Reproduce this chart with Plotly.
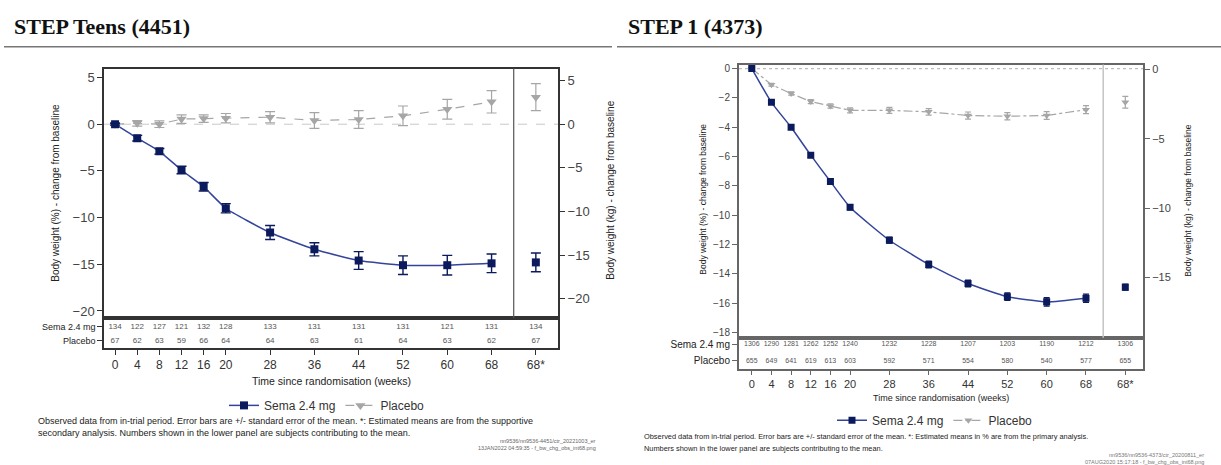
import plotly.graph_objects as go

W, H = 1221, 465

# ---- shared axis categories -------------------------------------------
weeks = [0, 4, 8, 12, 16, 20, 28, 36, 44, 52, 60, 68]
tick_labels = ["0", "4", "8", "12", "16", "20", "28", "36", "44", "52", "60", "68", "68*"]

# ---- STEP Teens: body weight change (%) -------------------------------
teens_sema = [0.0, -1.5, -2.9, -4.9, -6.7, -9.0, -11.6, -13.4, -14.6, -15.1, -15.1, -14.9]
teens_sema_se = [0.1, 0.3, 0.3, 0.4, 0.45, 0.5, 0.75, 0.7, 0.95, 1.0, 1.05, 1.0]
teens_sema_est = [-14.8]
teens_sema_est_se = [1.0]
teens_pbo = [0.0, 0.1, 0.0, 0.55, 0.6, 0.65, 0.75, 0.4, 0.5, 0.9, 1.6, 2.4]
teens_pbo_se = [0.1, 0.3, 0.35, 0.45, 0.4, 0.5, 0.6, 0.85, 0.95, 1.05, 1.05, 1.2]
teens_pbo_est = [2.9]
teens_pbo_est_se = [1.45]
teens_n_sema = [134, 122, 127, 121, 132, 128, 133, 131, 131, 131, 121, 131, 134]
teens_n_pbo = [67, 62, 63, 59, 66, 64, 64, 63, 61, 64, 63, 62, 67]

# ---- STEP 1: body weight change (%) -----------------------------------
s1_sema = [0.0, -2.3, -4.0, -5.9, -7.7, -9.45, -11.7, -13.35, -14.65, -15.55, -15.9, -15.65]
s1_sema_se = [0.05, 0.1, 0.12, 0.14, 0.17, 0.18, 0.2, 0.22, 0.23, 0.25, 0.28, 0.28]
s1_sema_est = [-14.9]
s1_sema_est_se = [0.2]
s1_pbo = [0.0, -1.1, -1.7, -2.25, -2.55, -2.85, -2.85, -2.95, -3.2, -3.25, -3.2, -2.8]
s1_pbo_se = [0.05, 0.1, 0.12, 0.14, 0.15, 0.17, 0.2, 0.22, 0.24, 0.25, 0.26, 0.27]
s1_pbo_est = [-2.3]
s1_pbo_est_se = [0.4]
s1_n_sema = [1306, 1290, 1281, 1262, 1252, 1240, 1232, 1228, 1207, 1203, 1190, 1212, 1306]
s1_n_pbo = [655, 649, 641, 619, 613, 603, 592, 571, 554, 580, 540, 577, 655]

# position of the "68*" column (estimated means) on the week axis
STAR_X = 76
SEP_X = 72
slots = weeks + [STAR_X]

SANS = "Liberation Sans, Arial, sans-serif"
SERIF = "Liberation Serif, Times New Roman, serif"
NAVY = "#0b1a5c"
NAVY_LINE = "#33449a"
GREY = "#a6a6a6"


def px(x):
    return x / W


def py(y):
    return 1 - y / H


fig = go.Figure()


def add_panel(xa, ya, xt, yt, sema, sema_se, sema_est, sema_est_se,
              pbo, pbo_se, pbo_est, pbo_est_se, n_sema, n_pbo, legend, st):
    err_s = dict(type="data", color=NAVY, thickness=1.4, width=st["cap"])
    err_p = dict(type="data", color=GREY, thickness=1.2, width=st["cap"])
    fig.add_trace(go.Scatter(
        x=weeks, y=pbo, mode="lines+markers", name="Placebo", legend=legend,
        line=dict(color=GREY, width=1.2, dash=st["pdash"]),
        marker=dict(symbol="triangle-down", size=st["pm"], color=GREY),
        error_y=dict(err_p, array=pbo_se), xaxis=xa, yaxis=ya,
        hoverinfo="skip", legendrank=2))
    fig.add_trace(go.Scatter(
        x=[STAR_X], y=pbo_est, mode="markers", showlegend=False,
        marker=dict(symbol="triangle-down", size=st["pm"], color=GREY),
        error_y=dict(err_p, array=pbo_est_se), xaxis=xa, yaxis=ya,
        hoverinfo="skip"))
    fig.add_trace(go.Scatter(
        x=weeks, y=sema, mode="lines+markers", name="Sema 2.4 mg", legend=legend,
        line=dict(color=NAVY_LINE, width=1.5, shape="spline", smoothing=0.5),
        marker=dict(symbol="square", size=st["sm"], color=NAVY),
        error_y=dict(err_s, array=sema_se), xaxis=xa, yaxis=ya,
        hoverinfo="skip", legendrank=1))
    fig.add_trace(go.Scatter(
        x=[STAR_X], y=sema_est, mode="markers", showlegend=False,
        marker=dict(symbol="square", size=st["sm"], color=NAVY),
        error_y=dict(err_s, array=sema_est_se), xaxis=xa, yaxis=ya,
        hoverinfo="skip"))
    # subjects contributing to the mean
    for row, ns in ((1, n_sema), (0, n_pbo)):
        fig.add_trace(go.Scatter(
            x=slots, y=[row] * len(ns), text=[str(n) for n in ns], mode="text",
            textfont=dict(family=SANS, size=st["nfont"], color="#555"),
            showlegend=False, hoverinfo="skip", xaxis=xt, yaxis=yt))


teens_style = dict(cap=5, pm=9, sm=8, pdash="dash", nfont=8)
s1_style = dict(cap=3, pm=7, sm=7, pdash="dashdot", nfont=7)

add_panel("x", "y", "x2", "y3", teens_sema, teens_sema_se, teens_sema_est, teens_sema_est_se,
          teens_pbo, teens_pbo_se, teens_pbo_est, teens_pbo_est_se,
          teens_n_sema, teens_n_pbo, "legend", teens_style)
add_panel("x3", "y4", "x4", "y6", s1_sema, s1_sema_se, s1_sema_est, s1_sema_est_se,
          s1_pbo, s1_pbo_se, s1_pbo_est, s1_pbo_est_se,
          s1_n_sema, s1_n_pbo, "legend2", s1_style)

# empty traces so the kg axes are laid out
fig.add_trace(go.Scatter(x=[], y=[], xaxis="x", yaxis="y2", showlegend=False))
fig.add_trace(go.Scatter(x=[], y=[], xaxis="x3", yaxis="y5", showlegend=False))


def frame_axis(color, width, **kw):
    d = dict(showgrid=False, zeroline=False, showline=True, mirror=True,
             linecolor=color, linewidth=width, tickcolor=color)
    d.update(kw)
    return d


tick_font_a = dict(family=SANS, size=13, color="#444")
tick_font_b = dict(family=SANS, size=10, color="#444")

# panel A geometry (pixels)
A_L, A_R, A_T, A_B, A_TB = 104, 558, 67, 318, 348
# panel B geometry (pixels)
B_L, B_R, B_T, B_B, B_TB = 739, 1143, 63, 338, 369

fig.update_layout(
    width=W, height=H, margin=dict(l=0, r=0, t=0, b=0),
    paper_bgcolor="white", plot_bgcolor="white",
    xaxis=frame_axis("#333", 1.5, domain=[px(A_L), px(A_R)], range=[-2, 80],
                     anchor="y", showticklabels=False, ticks=""),
    yaxis=frame_axis("#333", 1.5, domain=[py(A_B), py(A_T)], range=[-20.75, 5.96],
                     anchor="x", tickvals=[5, 0, -5, -10, -15, -20], ticks="outside",
                     ticklen=5, tickfont=tick_font_a),
    yaxis2=dict(overlaying="y", side="right", anchor="x", range=[-22.2, 6.36],
                tickvals=[5, 0, -5, -10, -15, -20], ticks="outside", ticklen=6,
                tickcolor="#333", showline=False, showgrid=False, zeroline=False,
                tickfont=tick_font_a),
    xaxis2=frame_axis("#333", 1.5, domain=[px(A_L), px(A_R)], range=[-2, 80],
                      anchor="y3", tickvals=slots, ticktext=tick_labels,
                      ticks="outside", ticklen=5,
                      tickfont=dict(family=SANS, size=12, color="#333")),
    yaxis3=frame_axis("#333", 1.5, domain=[py(A_TB), py(A_B)], range=[-0.49, 1.64],
                      anchor="x2", tickvals=[1, 0], ticktext=["Sema 2.4 mg", "Placebo"],
                      ticks="outside", ticklen=5,
                      tickfont=dict(family=SANS, size=9, color="#222")),
    xaxis3=frame_axis("#666", 2, domain=[px(B_L), px(B_R)], range=[-2.6, 79.6],
                      anchor="y4", showticklabels=False, ticks=""),
    yaxis4=frame_axis("#666", 2, domain=[py(B_B), py(B_T)], range=[-18.35, 0.27],
                      anchor="x3", tickvals=list(range(0, -19, -2)), ticks="outside",
                      ticklen=5, tickfont=tick_font_b),
    yaxis5=dict(overlaying="y4", side="right", anchor="x3", range=[-19.36, 0.36],
                tickvals=[0, -5, -10, -15], ticks="outside", ticklen=6,
                tickcolor="#666", showline=False, showgrid=False, zeroline=False,
                tickfont=dict(family=SANS, size=11, color="#444")),
    xaxis4=frame_axis("#666", 2, domain=[px(B_L), px(B_R)], range=[-2.6, 79.6],
                      anchor="y6", tickvals=slots, ticktext=tick_labels,
                      ticks="outside", ticklen=4,
                      tickfont=dict(family=SANS, size=11, color="#333")),
    yaxis6=frame_axis("#666", 2, domain=[py(B_TB), py(B_B)], range=[-0.47, 1.41],
                      anchor="x4", tickvals=[1, 0], ticktext=["Sema 2.4 mg", "Placebo"],
                      ticks="outside", ticklen=5,
                      tickfont=dict(family=SANS, size=10, color="#222")),
    legend=dict(x=px(327), xanchor="center", y=py(406), yanchor="middle",
                orientation="h", font=dict(family=SANS, size=12, color="#333"),
                bgcolor="rgba(0,0,0,0)", traceorder="normal"),
    legend2=dict(x=px(935), xanchor="center", y=py(421), yanchor="middle",
                 orientation="h", font=dict(family=SANS, size=12, color="#333"),
                 bgcolor="rgba(0,0,0,0)", traceorder="normal"),
    hovermode=False,
)

shapes = [
    # header rules
    dict(type="line", xref="paper", yref="paper", x0=px(4), x1=px(612),
         y0=py(45), y1=py(45), line=dict(color="#777", width=1.5)),
    dict(type="line", xref="paper", yref="paper", x0=px(617), x1=1,
         y0=py(45), y1=py(45), line=dict(color="#777", width=1.5)),
    # baseline references
    dict(type="line", xref="x domain", yref="y", x0=0, x1=1, y0=0, y1=0,
         line=dict(color="#c8c8c8", width=1, dash="dash"), layer="below"),
    dict(type="line", xref="x3 domain", yref="y4", x0=0, x1=1, y0=0, y1=0,
         line=dict(color="#bdbdbd", width=1.2, dash="dot"), layer="below"),
    # separators before the estimated-mean column
    dict(type="line", xref="x", yref="y domain", x0=SEP_X, x1=SEP_X, y0=0, y1=1,
         line=dict(color="#555", width=1.2)),
    dict(type="line", xref="x3", yref="y4 domain", x0=SEP_X - 0.5, x1=SEP_X - 0.5,
         y0=0, y1=1, line=dict(color="#c4c4c4", width=1.5)),
]
fig.update_layout(shapes=shapes)


def note(text, x, y, size, anchor="left", color="#222", angle=0, family=SANS):
    fig.add_annotation(text=text, x=px(x), y=py(y), xref="paper", yref="paper",
                       xanchor=anchor if angle == 0 else "center",
                       yanchor="middle", showarrow=False, textangle=angle,
                       font=dict(family=family, size=size, color=color))


note("<b>STEP Teens (4451)</b>", 12, 25, 22, color="#111", family=SERIF)
note("<b>STEP 1 (4373)</b>", 626, 25, 22, color="#111", family=SERIF)

note("Body weight (%) - change from baseline", 56, 192, 10, angle=-90)
note("Body weight (kg) - change from baseline", 611, 190, 10, angle=-90)
note("Body weight (%) - change from baseline", 703, 199, 8.5, angle=-90)
note("Body weight (kg) - change from baseline", 1188, 200, 8.5, angle=-90)

note("Time since randomisation (weeks)", 331, 381, 10.5, anchor="center")
note("Time since randomisation (weeks)", 941, 399, 9, anchor="center")

note("Observed data from in-trial period. Error bars are +/- standard error of the mean. "
     "*: Estimated means are from the supportive", 36, 422, 9)
note("secondary analysis. Numbers shown in the lower panel are subjects contributing to the mean.",
     36, 434, 9)
note("nn9536/nn9536-4451/ctr_20221003_er", 598, 442, 5.5, anchor="right", color="#666")
note("13JAN2022 04:59:35 - f_bw_chg_obs_int68.png", 598, 449, 5.5, anchor="right", color="#666")

note("Observed data from in-trial period. Error bars are +/- standard error of the mean. "
     "*: Estimated means in % are from the primary analysis.", 642, 437, 7.4)
note("Numbers shown in the lower panel are subjects contributing to the mean.", 642, 449, 7.4)
note("nn9536/nn9536-4373/ctr_20200811_er", 1206, 456, 5.5, anchor="right", color="#777")
note("07AUG2020 15:17:18 - f_bw_chg_obs_int68.png", 1206, 463, 5.5, anchor="right", color="#777")

fig.write_html("out.html")
